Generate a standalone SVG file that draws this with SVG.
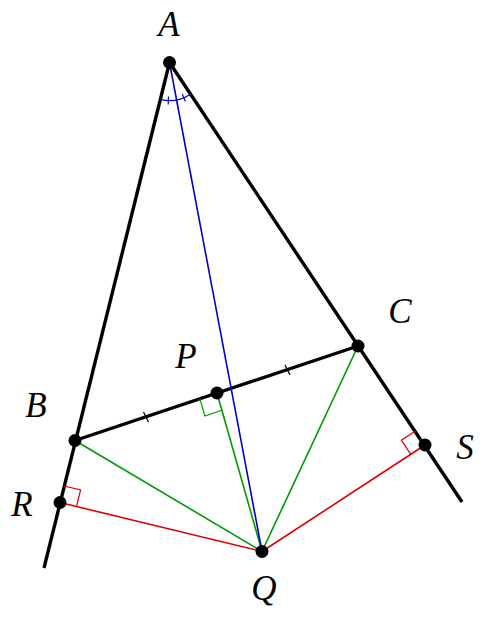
<svg xmlns="http://www.w3.org/2000/svg" width="487" height="620" viewBox="0 0 487 620">
<style>
.blk{stroke:#000;stroke-width:3.4;fill:none;stroke-linecap:butt}
.blu{stroke:#0000cc;stroke-width:1.6;fill:none}
.grn{stroke:#009900;stroke-width:1.6;fill:none}
.red{stroke:#dd0000;stroke-width:1.6;fill:none}
.thin{stroke:#000;stroke-width:1.2;fill:none}
.bthin{stroke:#0000cc;stroke-width:1.2;fill:none}
.gthin{stroke:#009900;stroke-width:1.2;fill:none}
.rthin{stroke:#dd0000;stroke-width:1.2;fill:none}
.dot{fill:#000}
.lbl{font-family:"Liberation Serif","DejaVu Serif",serif;font-style:italic;font-size:35px;fill:#000;text-anchor:middle}
</style>
<rect width="487" height="620" fill="#fff"/>
<g id="connectors">
<line class="blk" x1="169.5" y1="62.5" x2="44" y2="568"/>
<line class="blk" x1="169.5" y1="62.5" x2="462" y2="502"/>
<line class="blk" x1="75" y1="440.5" x2="358" y2="346"/>
<line class="grn" x1="75" y1="440.5" x2="262" y2="551.5"/>
<line class="grn" x1="217" y1="393" x2="262" y2="551.5"/>
<line class="grn" x1="358" y1="346" x2="262" y2="551.5"/>
<line class="red" x1="60" y1="502.5" x2="262" y2="551.5"/>
<line class="red" x1="425" y1="445" x2="262" y2="551.5"/>
<line class="blu" x1="169.5" y1="62.5" x2="262" y2="551.5"/>
<path class="bthin" d="M160.3,99.4 A38,38 0 0 0 190.5,94.2"/>
<line class="bthin" x1="168.5" y1="96.5" x2="168.2" y2="104.5"/>
<line class="bthin" x1="182.3" y1="94" x2="185.4" y2="101.4"/>
<line class="thin" x1="143.5" y1="412" x2="148.5" y2="422"/>
<line class="thin" x1="285" y1="365" x2="290" y2="375"/>
<polyline class="gthin" points="199.9,398.7 204.8,416 221.9,410.3"/>
<polyline class="rthin" points="64.1,486 80.6,490 76.5,506.5"/>
<polyline class="rthin" points="415.6,430.9 401.3,440.2 410.8,454.3"/>
</g>
<g id="A"><circle class="dot" cx="169.5" cy="62.5" r="6.5"/><text class="lbl" x="169" y="36">A</text></g>
<g id="B"><circle class="dot" cx="75" cy="440.5" r="6.5"/><text class="lbl" x="36" y="416.5">B</text></g>
<g id="C"><circle class="dot" cx="358" cy="346" r="6.5"/><text class="lbl" x="400" y="323">C</text></g>
<g id="P"><circle class="dot" cx="217" cy="393" r="6.5"/><text class="lbl" x="186" y="368">P</text></g>
<g id="Q"><circle class="dot" cx="262" cy="551.5" r="6.5"/><text class="lbl" x="264" y="600">Q</text></g>
<g id="R"><circle class="dot" cx="60" cy="502.5" r="6.5"/><text class="lbl" x="22" y="516">R</text></g>
<g id="S"><circle class="dot" cx="425" cy="445" r="6.5"/><text class="lbl" x="465" y="459">S</text></g>
</svg>
